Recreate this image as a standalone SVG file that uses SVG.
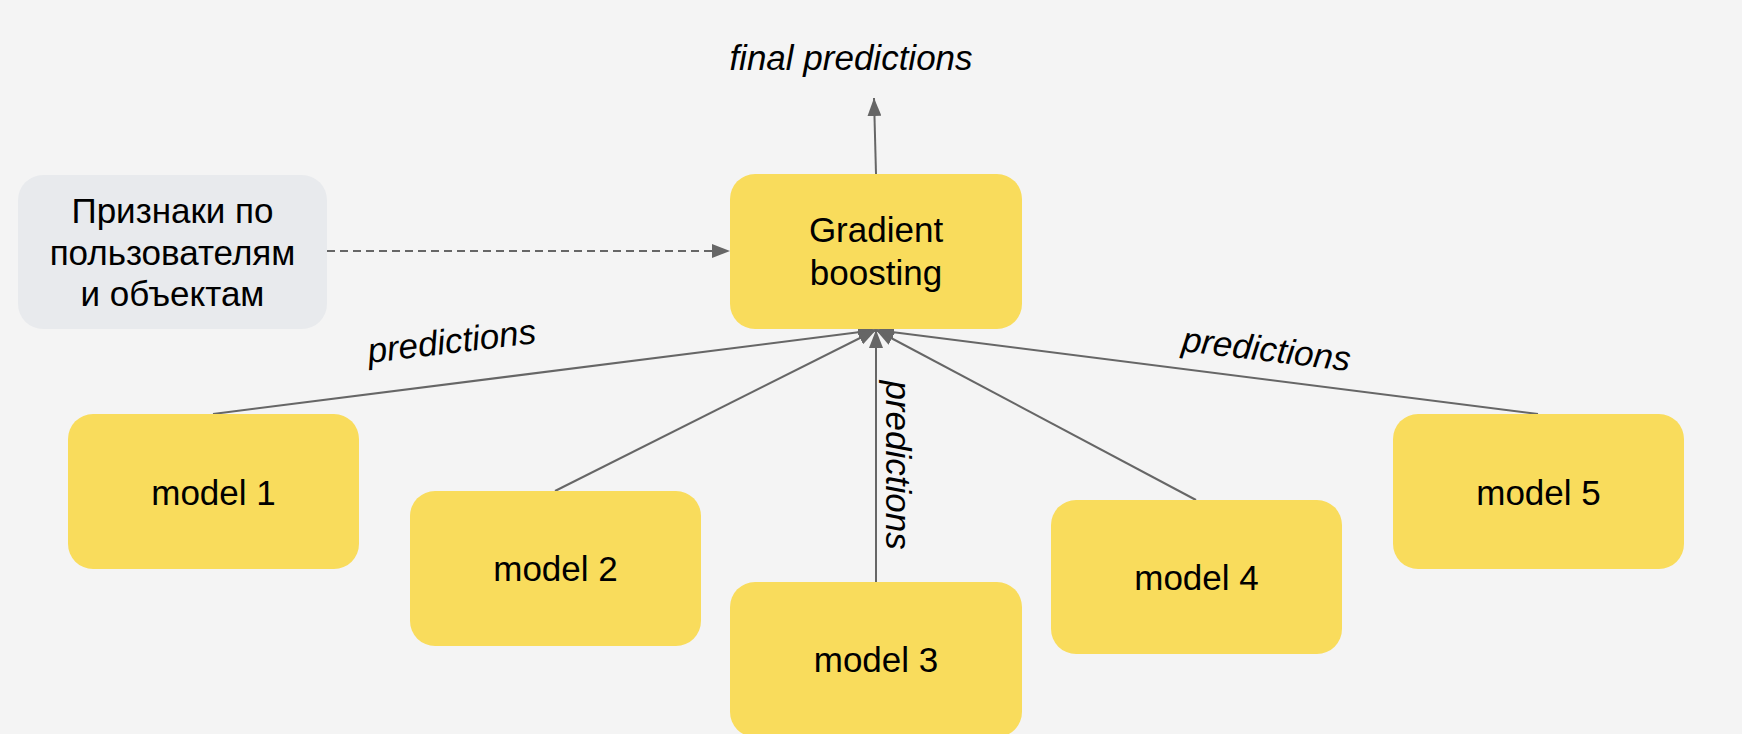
<svg xmlns="http://www.w3.org/2000/svg" width="1742" height="734" viewBox="0 0 1742 734">
<defs>
<style>
.bg{fill:#f4f4f4}
.node{fill:#f9dc5c}
.feat{fill:#e8eaed}
.t{font-family:"Liberation Sans",Arial,sans-serif;font-size:35px;fill:#000;text-anchor:middle}
.i{font-style:italic}
.c{stroke:#666;stroke-width:2;fill:none}
.d{stroke-dasharray:8 5}
</style>
<marker id="ah" markerUnits="userSpaceOnUse" markerWidth="20" markerHeight="14" refX="18" refY="7" orient="auto" viewBox="0 0 20 14">
<path d="M0,0 L18,7 L0,14 z" fill="#666"/>
</marker>
</defs>
<rect class="bg" x="0" y="0" width="1742" height="734"/>

<g id="connectors">
<line class="c" x1="876" y1="174" x2="874" y2="98" marker-end="url(#ah)"/>
<line class="c d" x1="327" y1="251" x2="730" y2="251" marker-end="url(#ah)"/>
<line class="c" x1="213" y1="414" x2="876" y2="330" marker-end="url(#ah)"/>
<line class="c" x1="555" y1="491" x2="876" y2="330" marker-end="url(#ah)"/>
<line class="c" x1="876" y1="582" x2="876" y2="330" marker-end="url(#ah)"/>
<line class="c" x1="1196" y1="500" x2="876" y2="330" marker-end="url(#ah)"/>
<line class="c" x1="1538" y1="414" x2="876" y2="330" marker-end="url(#ah)"/>
<text class="t i" transform="translate(453,353) rotate(-6.8)">predictions</text>
<text class="t i" transform="translate(1265,361) rotate(6.8)">predictions</text>
<text class="t i" transform="translate(886,465) rotate(90)">predictions</text>
<text class="t i" x="851" y="70">final predictions</text>
</g>

<g id="features">
<rect class="feat" x="18" y="175" width="309" height="154" rx="25"/>
<text class="t" x="172.5" y="223">Признаки по</text>
<text class="t" x="172.5" y="265">пользователям</text>
<text class="t" x="172.5" y="306">и объектам</text>
</g>

<g id="gradient-boosting">
<rect class="node" x="730" y="174" width="292" height="155" rx="25"/>
<text class="t" x="876" y="242">Gradient</text>
<text class="t" x="876" y="285">boosting</text>
</g>

<g id="model1">
<rect class="node" x="68" y="414" width="291" height="155" rx="25"/>
<text class="t" x="213.5" y="505">model 1</text>
</g>

<g id="model2">
<rect class="node" x="410" y="491" width="291" height="155" rx="25"/>
<text class="t" x="555.5" y="581">model 2</text>
</g>

<g id="model3">
<rect class="node" x="730" y="582" width="292" height="155" rx="25"/>
<text class="t" x="876" y="672">model 3</text>
</g>

<g id="model4">
<rect class="node" x="1051" y="500" width="291" height="154" rx="25"/>
<text class="t" x="1196.5" y="590">model 4</text>
</g>

<g id="model5">
<rect class="node" x="1393" y="414" width="291" height="155" rx="25"/>
<text class="t" x="1538.5" y="505">model 5</text>
</g>
</svg>
